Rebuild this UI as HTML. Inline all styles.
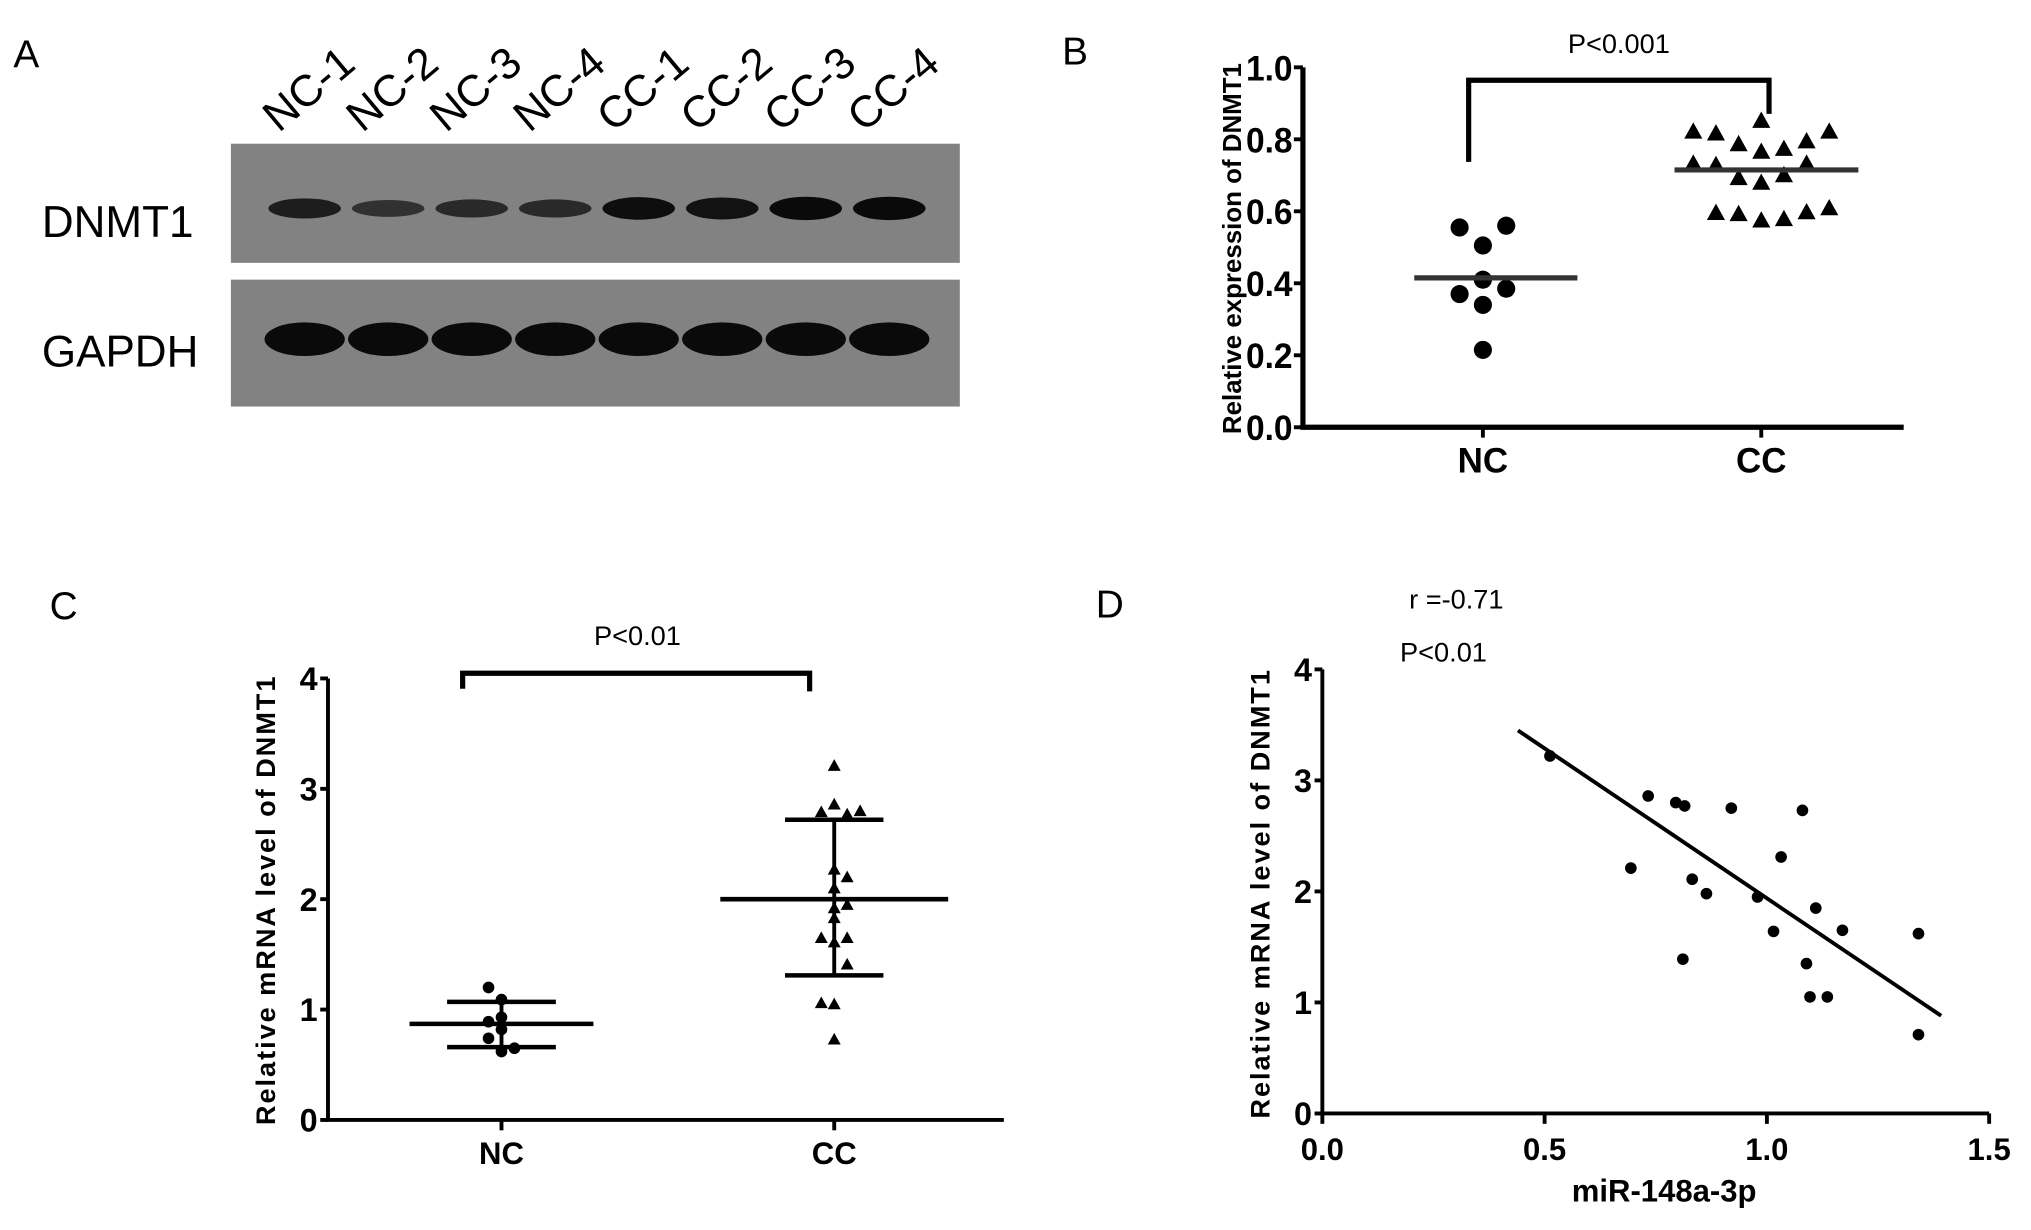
<!DOCTYPE html>
<html><head><meta charset="utf-8"><style>
body{margin:0;background:#fff}
svg{display:block;font-family:"Liberation Sans",sans-serif}
</style></head><body>
<svg id="fig" width="2031" height="1230" viewBox="0 0 1568 950" xmlns="http://www.w3.org/2000/svg">
<rect width="1568" height="950" fill="#fff"/>
<g id="pa">
<text x="10" y="52" font-size="30">A</text>
<rect x="178" y="111" width="563" height="92" fill="#828282"/>
<rect x="178" y="216" width="563" height="98" fill="#828282"/>
<text x="32" y="183" font-size="34">DNMT1</text>
<text x="32" y="283" font-size="34">GAPDH</text>
</g>
<g id="pb"></g>
<g id="pc"></g>
<g id="pd"></g>
</svg>
<script>
// Panel A data
const laneNames=["NC-1","NC-2","NC-3","NC-4","CC-1","CC-2","CC-3","CC-4"];
const dnmt1Intensity=[0.75,0.5,0.6,0.6,0.95,0.9,1.0,1.0];
const gapdhIntensity=[1,1,1,1,1,1,1,1];
// Panel B data
const bCategories=["NC","CC"];
const bNC=[0.555,0.56,0.505,0.41,0.37,0.385,0.34,0.215];
const bNCslot=[-1,1,0,0,-1,1,0,0];
const bCC=[0.822,0.817,0.852,0.822,0.787,0.766,0.774,0.795,0.733,0.729,0.733,0.693,0.680,0.701,0.596,0.593,0.575,0.579,0.598,0.609];
const bCCslot=[-3,-2,0,3,-1,0,1,2,-3,-2,2,-1,0,1,-2,-1,0,1,2,3];
const bMeans=[0.415,0.715];
const bTicks=["0.0","0.2","0.4","0.6","0.8","1.0"];
// Panel C data
const cCategories=["NC","CC"];
const cNC=[1.2,1.09,0.93,0.89,0.82,0.74,0.65,0.62];
const cNCslot=[-1,0,0,-1,0,-1,1,0];
const cCC=[3.21,2.86,2.79,2.77,2.80,2.27,2.20,2.10,1.95,1.92,1.83,1.65,1.65,1.61,1.41,1.06,1.05,0.73];
const cCCslot=[0,0,-1,1,2,0,1,0,1,0,0,-1,1,0,1,-1,0,0];
const cMeans=[0.87,2.0];
const cSDlow=[0.66,1.31];
const cSDhigh=[1.07,2.72];
const cTicks=["0","1","2","3","4"];
// Panel D data
const dX=[0.512,0.733,0.795,0.815,0.92,1.08,1.032,0.694,0.832,0.864,0.979,1.11,1.17,1.015,1.341,0.811,1.089,1.097,1.136,1.341];
const dY=[3.22,2.86,2.80,2.77,2.75,2.73,2.31,2.21,2.11,1.98,1.95,1.85,1.65,1.64,1.62,1.39,1.35,1.05,1.05,0.71];
const dFitX=[0.44,1.392];
const dFitY=[3.45,0.88];
const dXTicks=["0.0","0.5","1.0","1.5"];
const dYTicks=["0","1","2","3","4"];

const NS="http://www.w3.org/2000/svg";
function mk(parent,tag,attrs,txt){const e=document.createElementNS(NS,tag);for(const k in attrs)e.setAttribute(k,attrs[k]);if(txt!==undefined)e.textContent=txt;parent.appendChild(e);return e;}

// Panel A
const pa=document.getElementById('pa');
const laneX=i=>235+i*64.5;
laneNames.forEach((n,i)=>{
  const t=mk(pa,'text',{x:0,y:0,'font-size':34,transform:`translate(${laneX(i)-20},103) rotate(-40)`},n);
  
  
  const b=mk(pa,'ellipse',{cx:laneX(i),cy:161,rx:28,ry:4+5*dnmt1Intensity[i],fill:'#0a0a0a','fill-opacity':0.35+0.65*dnmt1Intensity[i]});
  
  
  const g=mk(pa,'ellipse',{cx:laneX(i),cy:262,rx:31,ry:13*gapdhIntensity[i],fill:'#0a0a0a'});
  
  
});

function tri(p,cx,cy,s){return mk(p,'polygon',{points:`${cx},${cy-s} ${cx-s},${cy+s*0.8} ${cx+s},${cy+s*0.8}`,fill:'#000'});}

// Panel B
const pb=document.getElementById('pb');
const bx0=1006,bxEnd=1470,by0=330,byTop=52;
const bY=v=>by0-(v)*(by0-byTop);
const bCatX=[1145,1360];
mk(pb,'text',{x:820,y:50,'font-size':30},'B');
mk(pb,'line',{x1:bx0,y1:by0,x2:bx0,y2:byTop,stroke:'#000','stroke-width':4});
mk(pb,'line',{x1:bx0-2,y1:by0,x2:bxEnd,y2:by0,stroke:'#000','stroke-width':4});
bTicks.forEach(t=>{const v=parseFloat(t);
  mk(pb,'line',{x1:bx0-7,y1:bY(v),x2:bx0,y2:bY(v),stroke:'#000','stroke-width':3});
  const e=mk(pb,'text',{x:bx0-8,y:bY(v)+10,'font-size':27,'font-weight':'bold','text-anchor':'end',textLength:36,lengthAdjust:'spacingAndGlyphs'},t);
  
  });
bCategories.forEach((c,i)=>{
  mk(pb,'line',{x1:bCatX[i],y1:by0,x2:bCatX[i],y2:by0+8,stroke:'#000','stroke-width':3});
  const e=mk(pb,'text',{x:bCatX[i],y:by0+35,'font-size':27,'font-weight':'bold','text-anchor':'middle'},c);
  
  });
{const e=mk(pb,'text',{x:0,y:0,'font-size':20,'font-weight':'bold','text-anchor':'middle',transform:`translate(958,192) rotate(-90)`},'Relative expression of DNMT1');
}
mk(pb,'path',{d:`M1134,125 L1134,62 L1366,62 L1366,88`,fill:'none',stroke:'#000','stroke-width':4});
mk(pb,'text',{x:1250,y:41,'font-size':21,'text-anchor':'middle'},'P<0.001');
bNC.forEach((v,i)=>{const e=mk(pb,'circle',{cx:bCatX[0]+bNCslot[i]*18,cy:bY(v),r:7,fill:'#000'});
  
  });
bCC.forEach((v,i)=>{const e=tri(pb,bCatX[1]+bCCslot[i]*17.5,bY(v),7);
  
  });
[[1092,1218],[1293,1435]].forEach((r,i)=>{const e=mk(pb,'line',{x1:r[0],y1:bY(bMeans[i]),x2:r[1],y2:bY(bMeans[i]),stroke:'#333','stroke-width':4});
  
  });

// Panel C
const pc=document.getElementById('pc');
const cx0=253,cxEnd=775,cy0=865,cyTop=524;
const cY=v=>cy0-v*(cy0-cyTop)/4;
const cCatX=[387,644];
mk(pc,'text',{x:38,y:478,'font-size':30},'C');
mk(pc,'line',{x1:cx0,y1:cy0,x2:cx0,y2:cyTop,stroke:'#000','stroke-width':3});
mk(pc,'line',{x1:cx0-2,y1:cy0,x2:cxEnd,y2:cy0,stroke:'#000','stroke-width':3});
cTicks.forEach(t=>{const v=+t;
  mk(pc,'line',{x1:cx0-6,y1:cY(v),x2:cx0,y2:cY(v),stroke:'#000','stroke-width':3});
  const e=mk(pc,'text',{x:cx0-8,y:cY(v)+9,'font-size':25,'font-weight':'bold','text-anchor':'end'},t);
  
  });
cCategories.forEach((c,i)=>{
  mk(pc,'line',{x1:cCatX[i],y1:cy0,x2:cCatX[i],y2:cy0+8,stroke:'#000','stroke-width':3});
  const e=mk(pc,'text',{x:cCatX[i],y:cy0+34,'font-size':24,'font-weight':'bold','text-anchor':'middle'},c);
  
  });
mk(pc,'text',{x:0,y:0,'font-size':21,'font-weight':'bold','text-anchor':'middle','letter-spacing':'1.5',transform:`translate(212,695) rotate(-90)`},'Relative mRNA level of DNMT1');
mk(pc,'path',{d:`M357,532 L357,520 L625,520 L625,534`,fill:'none',stroke:'#000','stroke-width':4});
mk(pc,'text',{x:492,y:498,'font-size':21,'text-anchor':'middle'},'P<0.01');
cNC.forEach((v,i)=>{const e=mk(pc,'circle',{cx:cCatX[0]+cNCslot[i]*10,cy:cY(v),r:4.5,fill:'#000'});
  
  });
cCC.forEach((v,i)=>{const e=tri(pc,cCatX[1]+cCCslot[i]*10,cY(v),5);
  
  });
const meanHalf=[71,88],sdHalf=[42,38];
[0,1].forEach(i=>{const x=cCatX[i];
  const m=mk(pc,'line',{x1:x-meanHalf[i],y1:cY(cMeans[i]),x2:x+meanHalf[i],y2:cY(cMeans[i]),stroke:'#000','stroke-width':3.5});
  
  
  [cSDlow[i],cSDhigh[i]].forEach(s=>{const e=mk(pc,'line',{x1:x-sdHalf[i],y1:cY(s),x2:x+sdHalf[i],y2:cY(s),stroke:'#000','stroke-width':3.5});
    
    });
  const v=mk(pc,'line',{x1:x,y1:cY(cSDlow[i]),x2:x,y2:cY(cSDhigh[i]),stroke:'#000','stroke-width':3});
  
  });

// Panel D
const pd=document.getElementById('pd');
const dx0=1021,dxEnd=1536,dy0=860,dyTop=517;
const dXs=v=>dx0+v*(dxEnd-dx0)/1.5;
const dYs=v=>dy0-v*(dy0-dyTop)/4;
mk(pd,'text',{x:846,y:477,'font-size':30},'D');
mk(pd,'text',{x:1088,y:470,'font-size':21},'r =-0.71');
mk(pd,'text',{x:1081,y:511,'font-size':21},'P<0.01');
mk(pd,'line',{x1:dx0,y1:dy0,x2:dx0,y2:dyTop,stroke:'#000','stroke-width':3});
mk(pd,'line',{x1:dx0-2,y1:dy0,x2:dxEnd,y2:dy0,stroke:'#000','stroke-width':3});
dYTicks.forEach(t=>{const v=+t;
  mk(pd,'line',{x1:dx0-6,y1:dYs(v),x2:dx0,y2:dYs(v),stroke:'#000','stroke-width':3});
  const e=mk(pd,'text',{x:dx0-8,y:dYs(v)+9,'font-size':25,'font-weight':'bold','text-anchor':'end'},t);
  
  });
dXTicks.forEach(t=>{const v=+t;
  mk(pd,'line',{x1:dXs(v),y1:dy0,x2:dXs(v),y2:dy0+8,stroke:'#000','stroke-width':3});
  const e=mk(pd,'text',{x:dXs(v),y:dy0+36,'font-size':24,'font-weight':'bold','text-anchor':'middle'},t);
  
  });
mk(pd,'text',{x:0,y:0,'font-size':21,'font-weight':'bold','text-anchor':'middle','letter-spacing':'1.5',transform:`translate(980,690) rotate(-90)`},'Relative mRNA level of DNMT1');
mk(pd,'text',{x:1285,y:928,'font-size':24,'font-weight':'bold','text-anchor':'middle'},'miR-148a-3p');
{const e=mk(pd,'line',{x1:dXs(dFitX[0]),y1:dYs(dFitY[0]),x2:dXs(dFitX[1]),y2:dYs(dFitY[1]),stroke:'#000','stroke-width':3});

}
dX.forEach((x,i)=>{const e=mk(pd,'circle',{cx:dXs(x),cy:dYs(dY[i]),r:4.5,fill:'#000'});
  
  });
</script>
</body></html>
